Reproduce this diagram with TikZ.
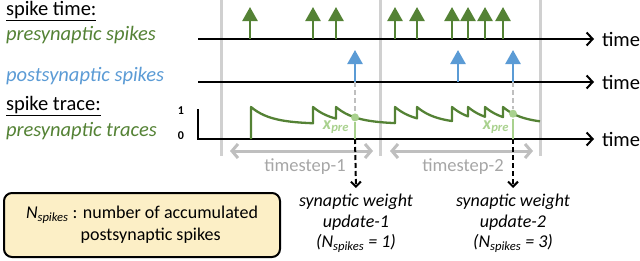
\documentclass[tikz,border=0pt]{standalone}
\usepackage{fontspec}
\setmainfont{Carlito}
\usetikzlibrary{arrows.meta}
\definecolor{pregreen}{HTML}{548235}
\definecolor{postblue}{HTML}{5B9BD5}
\definecolor{hitgreen}{HTML}{A9D18E}
\definecolor{sepgray}{HTML}{D0D0D0}
\definecolor{stepgray}{HTML}{BFBFBF}
\definecolor{stepfont}{HTML}{A6A6A6}
\definecolor{noteyellow}{HTML}{FCEFC6}
\begin{document}
\begin{tikzpicture}[x=1pt,y=-1pt,line width=2pt,
  lbl/.style={anchor=west,inner sep=0pt,font=\fontsize{20.5}{22}\selectfont},
  timelbl/.style={anchor=west,inner sep=0pt,font=\fontsize{20.5}{22}\selectfont},
  timeaxis/.style={-{Straight Barb[length=6pt,width=13pt]}},
  sepline/.style={sepgray,line width=3pt},
  prespike/.style={pregreen,line width=2.5pt,-{Triangle[length=14pt,width=15pt]}},
  postspike/.style={postblue,line width=2.5pt,-{Triangle[length=14pt,width=15pt]}},
  trace/.style={pregreen,line width=2.3pt,line join=round},
  guide/.style={stepgray,dashed,dash pattern=on 5pt off 3pt},
  hitline/.style={hitgreen},
  hitdot/.style={circle,fill=hitgreen,minimum size=8pt,inner sep=0pt},
  steparrow/.style={stepgray,line width=3pt,{Straight Barb[length=6pt,width=14pt]}-{Straight Barb[length=6pt,width=14pt]}},
  updarrow/.style={dashed,dash pattern=on 5pt off 3pt,-{Straight Barb[length=5pt,width=10pt]}},
  updlbl/.style={anchor=north,align=center,inner sep=0pt,font=\fontsize{18}{20.5}\selectfont\itshape},
  notebox/.style={draw,rounded corners=8pt,fill=noteyellow,minimum width=276pt,minimum height=64pt,font=\fontsize{18}{22}\selectfont}]
\useasboundingbox (0,0) rectangle (640,260);
% timestep borders
\foreach \x in {221,380,540}
  \draw[sepline] (\x,0) -- (\x,156);
% left labels
\node[lbl] (spiketime) at (5,11) {\underline{spike time:}};
\node[lbl,text=pregreen] (prelbl) at (5,35) {\itshape presynaptic spikes};
\node[lbl,text=postblue] (postlbl) at (5,76) {\itshape postsynaptic spikes};
\node[lbl] (spiketrace) at (5,106) {\underline{spike trace:}};
\node[lbl,text=pregreen] (tracelbl) at (5,131) {\itshape presynaptic traces};
% axes
\draw[timeaxis] (198,39) -- (594,39);
\draw[timeaxis] (198,82) -- (594,82);
\draw[timeaxis] (198,109) -- (198,139) -- (594,139);
\node[timelbl] (time1) at (601,39) {time};
\node[timelbl] (time2) at (601,82) {time};
\node[timelbl] (time3) at (601,139) {time};
\node[font=\fontsize{12}{12}\selectfont\bfseries] (one) at (181,111) {1};
\node[font=\fontsize{12}{12}\selectfont\bfseries] (zero) at (181,136) {0};
% spikes
\foreach \s in {250,313,336,395,417,452,468,485,503}
  \draw[prespike] (\s,39) -- (\s,7);
\foreach \s in {355,458,513}
  \draw[postspike] (\s,82) -- (\s,50);
% presynaptic trace
\draw[trace] (251,139) -- (251,107)
  \foreach \a/\l in {251/62,313/23,336/59,395/22,417/35,452/16,468/17,485/18}
    { -- plot[domain=0:\l,samples=20] ({\a+\x},{124-17*exp(-\x/20)}) -- ({\a+\l},107) }
  -- plot[domain=0:37,samples=20] ({503+\x},{124-17*exp(-\x/20)});
% sampling points
\coordinate (post1) at (355,82);
\coordinate (post2) at (513,82);
\coordinate (ax1) at (355,139);
\coordinate (ax2) at (513,139);
\node[hitdot] (hit1) at (355,117.4) {};
\node[hitdot] (hit2) at (513,113.7) {};
\draw[guide] (post1) -- (hit1);
\draw[guide] (post2) -- (hit2);
\draw[hitline] (hit1) -- (ax1);
\draw[hitline] (hit2) -- (ax2);
\node[text=hitgreen,font=\fontsize{18}{18}\selectfont\bfseries\itshape] (xpre1) at (336,127) {x\textsubscript{pre}};
\node[text=hitgreen,font=\fontsize{18}{18}\selectfont\bfseries\itshape] (xpre2) at (496,127) {x\textsubscript{pre}};
% timesteps
\draw[steparrow] (230,151) -- (373,151);
\draw[steparrow] (390,151) -- (533,151);
\node[text=stepfont,font=\fontsize{18.5}{18}\selectfont] (ts1) at (305,167) {timestep-1};
\node[text=stepfont,font=\fontsize{18.5}{18}\selectfont] (ts2) at (463,167) {timestep-2};
% weight updates
\node[updlbl] (upd1) at (356,193) {synaptic weight\\update-1\\(\textit{N}\textsubscript{spikes} = 1)};
\node[updlbl] (upd2) at (513,193) {synaptic weight\\update-2\\(\textit{N}\textsubscript{spikes} = 3)};
\draw[updarrow] (ax1) -- (upd1.north |- 0,188);
\draw[updarrow] (ax2) -- (upd2.north |- 0,188);
% note box
\node[notebox] (note) at (142,225) {\begin{tabular}{@{}r@{ }l@{}}\textit{N}\textsubscript{\textit{spikes}} & : number of accumulated\\ & \hspace*{8pt}postsynaptic spikes\end{tabular}};
\end{tikzpicture}
\end{document}
